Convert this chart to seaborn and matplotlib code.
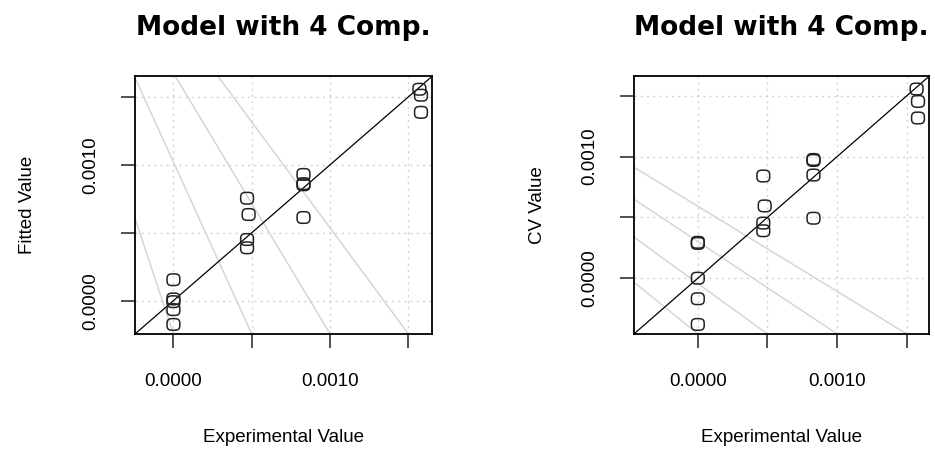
import numpy as np
import matplotlib
matplotlib.use("Agg")
import matplotlib.pyplot as plt
from matplotlib.path import Path
import seaborn as sns

# Data
exp_value = [0, 0, 0, 0, 0,
             0.00047, 0.00048, 0.00047, 0.00047,
             0.00083, 0.00083, 0.00083, 0.00083,
             0.00157, 0.00158, 0.00158]
fitted_value = [0.000154, 0.0000125, -0.0000074, -0.000066, -0.000175,
                0.000754, 0.000634, 0.000450, 0.000389,
                0.000929, 0.000861, 0.000853, 0.000612,
                0.001556, 0.001512, 0.001386]
cv_value = [0.000295, 0.000286, 0.0, -0.000169, -0.00038,
            0.00084, 0.000594, 0.000453, 0.00039,
            0.000976, 0.000968, 0.000848, 0.000493,
            0.001555, 0.001453, 0.001317]

tick_values = [0, 0.0005, 0.0010, 0.0015]
tick_labels = ["0.0000", "", "0.0010", ""]

# grey guide lines: x where they meet the bottom edge, and their slopes
guide_x = [0, 0.0005, 0.0010, 0.0015]
fitted_guide_slopes = [-3.47, -2.53, -1.92, -1.56]
cv_guide_slopes = [-0.93, -0.83, -0.76, -0.70]

sns.set_style("white")
plt.rcParams["font.family"] = ["Liberation Sans", "DejaVu Sans"]
plt.rcParams["text.color"] = "black"
plt.rcParams["axes.labelcolor"] = "black"
plt.rcParams["xtick.color"] = "black"
plt.rcParams["ytick.color"] = "black"

# rounded-square open marker (like R's pch=1 on this device)
t = np.linspace(0, 2 * np.pi, 60)
n = 3.2
mx = 1.1 * np.sign(np.cos(t)) * np.abs(np.cos(t)) ** (2 / n)
my = np.sign(np.sin(t)) * np.abs(np.sin(t)) ** (2 / n)
rmarker = Path(np.column_stack([mx, my]), closed=True)

fig = plt.figure(figsize=(9.35, 4.55), dpi=100)
ax1 = fig.add_axes([0.1444, 0.266, 0.3176, 0.566])
ax2 = fig.add_axes([0.678, 0.266, 0.3155, 0.566])


def panel(ax, yvals, slopes, ylabel, ypad):
    allv = np.array(list(exp_value) + list(yvals))
    lo, hi = allv.min(), allv.max()
    ext = 0.04 * (hi - lo)
    lim = (lo - ext, hi + ext)
    ax.set_xlim(lim)
    ax.set_ylim(lim)

    for v in tick_values:
        ax.axvline(v, color="lightgray", lw=1, ls=(0, (1.5, 3)), zorder=0)
        ax.axhline(v, color="lightgray", lw=1, ls=(0, (1.5, 3)), zorder=0)
    for gx, s in zip(guide_x, slopes):
        ax.axline((gx, lim[0]), slope=s, color="#d6d6d6", lw=1.1, zorder=1)
    ax.axline((0, 0), slope=1, color="black", lw=0.9, zorder=2)

    sns.scatterplot(x=exp_value, y=yvals, ax=ax, marker=rmarker, s=85,
                    facecolor="none", edgecolor="#222222", linewidth=1.1,
                    zorder=3)

    ax.set_xticks(tick_values)
    ax.set_xticklabels(tick_labels)
    ax.set_yticks(tick_values)
    ax.set_yticklabels(tick_labels, rotation=90, va="center")
    ax.tick_params(axis="both", direction="out", length=10, width=1.2,
                   labelsize=13.5, color="#333333", left=True, bottom=True)
    ax.tick_params(axis="x", pad=18)
    ax.tick_params(axis="y", pad=16)
    for sp in ax.spines.values():
        sp.set_visible(True)
        sp.set_color("black")
        sp.set_linewidth(1.3)
    ax.set_xlabel("Experimental Value", fontsize=13.5, labelpad=28)
    ax.set_ylabel(ylabel, fontsize=13.5, labelpad=ypad)
    ax.set_title("Model with 4 Comp.", fontsize=19, fontweight="bold",
                 family=["DejaVu Sans"], pad=30)


panel(ax1, fitted_value, fitted_guide_slopes, "Fitted Value", 33)
panel(ax2, cv_value, cv_guide_slopes, "CV Value", 25)

fig.savefig("out.png", dpi=100)
